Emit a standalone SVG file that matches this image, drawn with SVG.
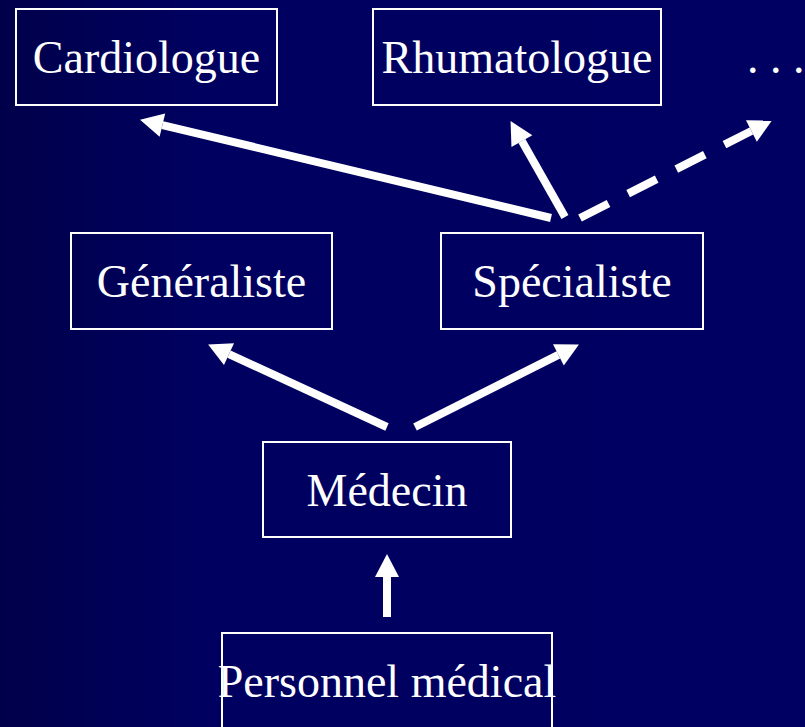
<svg xmlns="http://www.w3.org/2000/svg" width="805" height="727" viewBox="0 0 805 727">
  <defs>
    <linearGradient id="bg" x1="0" y1="0" x2="1" y2="0">
      <stop offset="0" stop-color="#00004a"/>
      <stop offset="0.25" stop-color="#000060"/>
      <stop offset="1" stop-color="#000062"/>
    </linearGradient>
    <marker id="head" markerUnits="userSpaceOnUse" markerWidth="24" markerHeight="26" refX="0" refY="12" orient="auto" overflow="visible">
      <path d="M0,0 L23,12 L0,24 z" fill="#ffffff"/>
    </marker>
    <style>
      .box { fill: none; stroke: #ffffff; stroke-width: 2; }
      .lbl { fill: #ffffff; font-family: "Liberation Serif", "DejaVu Serif", serif; font-size: 46px; text-anchor: middle; }
      .arr { stroke: #ffffff; stroke-width: 8; fill: none; marker-end: url(#head); }
      .dash { stroke-dasharray: 32 22; }
    </style>
  </defs>
  <rect x="0" y="0" width="805" height="727" fill="url(#bg)"/>

  <g id="cardiologue">
    <rect class="box" x="16" y="9" width="261" height="96"/>
    <text class="lbl" x="146.5" y="73">Cardiologue</text>
  </g>
  <g id="rhumatologue">
    <rect class="box" x="373" y="9" width="288" height="96"/>
    <text class="lbl" x="517" y="73">Rhumatologue</text>
  </g>
  <g id="autres">
    <text class="lbl" x="747" y="73" style="text-anchor:start">. . .</text>
  </g>
  <g id="generaliste">
    <rect class="box" x="71" y="233" width="261" height="96"/>
    <text class="lbl" x="201.5" y="297">Généraliste</text>
  </g>
  <g id="specialiste">
    <rect class="box" x="441" y="233" width="262" height="96"/>
    <text class="lbl" x="572" y="297">Spécialiste</text>
  </g>
  <g id="medecin">
    <rect class="box" x="263" y="442" width="248" height="95"/>
    <text class="lbl" x="387" y="506">Médecin</text>
  </g>
  <g id="personnel">
    <rect class="box" x="222" y="633" width="330" height="110"/>
    <text class="lbl" x="387" y="697">Personnel médical</text>
  </g>

  <g id="connectors">
    <line class="arr" x1="387" y1="617" x2="387" y2="577"/>
    <line class="arr" x1="387" y1="427" x2="229" y2="354.2"/>
    <line class="arr" x1="415" y1="427" x2="558.4" y2="354.9"/>
    <line class="arr" x1="551" y1="218" x2="162.4" y2="125.1"/>
    <line class="arr" x1="565" y1="217" x2="521.9" y2="141.1"/>
    <line class="arr dash" x1="580" y1="218" x2="751.4" y2="131"/>
  </g>
</svg>
